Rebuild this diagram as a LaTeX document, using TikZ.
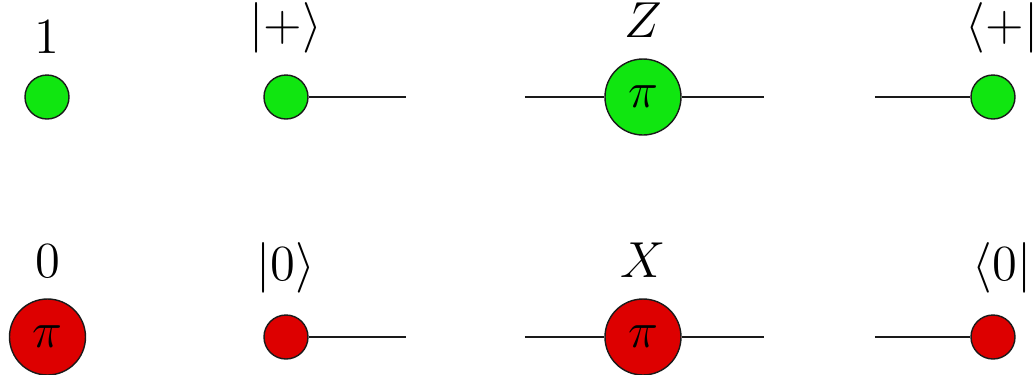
\documentclass[tikz,border=0pt]{standalone}
\usepackage{tikz}
\usetikzlibrary{positioning}
\usepackage{xcolor}
\usepackage{amsmath}
\definecolor{ZGreen}{HTML}{10E610}
\definecolor{XRed}  {HTML}{DD0000}
\definecolor{Edge}  {HTML}{1A1A1A}
\tikzset{
  spider/.style args={#1/#2}{
    circle, draw=Edge, fill=#1,
    minimum size=#2, inner sep=0pt,
    line width=0.4pt, font=\fontsize{13.5}{16}\selectfont,
  },
  zsp/.style={spider=ZGreen/0.44cm},
  xsp/.style={spider=XRed/0.44cm},
  zbig/.style={spider=ZGreen/0.76cm},
  xbig/.style={spider=XRed/0.76cm},
  wire/.style={line width=0.45pt, color=Edge},
  % labels over the spiders
  lbl/.style={
    font=\fontsize{13.5}{16}\selectfont, inner sep=0.5pt,
    label distance=0.185cm,
  },
}
\begin{document}
\begin{tikzpicture}[x=1cm,y=1cm]
  \useasboundingbox (0,0) rectangle (10.35,3.74);
  % green row
  \node[zsp, label={[lbl]above:$1$}] (g1) at (0.47,2.77) {};
  \node[zsp, label={[lbl]above:$|+\rangle$}] (gket) at (2.86,2.77) {};
  \node[zbig, label={[lbl]above:$Z$}] (gz) at (6.43,2.77) {$\pi$};
  \node[zsp, label={[lbl, xshift=0.09cm]above:$\langle+|$}] (gbra) at (9.93,2.77) {};
  \coordinate (gketr) at (4.06,2.77);
  \coordinate (gzl) at (5.25,2.77); \coordinate (gzr) at (7.64,2.77);
  \coordinate (gbral) at (8.75,2.77);
  \draw[wire] (gket) -- (gketr);
  \draw[wire] (gzl) -- (gz); \draw[wire] (gz) -- (gzr);
  \draw[wire] (gbral) -- (gbra);
  % red row
  \node[xbig, label={[lbl]above:$0$}] (r0) at (0.475,0.37) {$\pi$};
  \node[xsp, label={[lbl]above:$|0\rangle$}] (rket) at (2.86,0.37) {};
  \node[xbig, label={[lbl]above:$X$}] (rx) at (6.43,0.37) {$\pi$};
  \node[xsp, label={[lbl, xshift=0.09cm]above:$\langle0|$}] (rbra) at (9.93,0.37) {};
  \coordinate (rketr) at (4.06,0.37);
  \coordinate (rxl) at (5.25,0.37); \coordinate (rxr) at (7.64,0.37);
  \coordinate (rbral) at (8.75,0.37);
  \draw[wire] (rket) -- (rketr);
  \draw[wire] (rxl) -- (rx); \draw[wire] (rx) -- (rxr);
  \draw[wire] (rbral) -- (rbra);
\end{tikzpicture}
\end{document}
